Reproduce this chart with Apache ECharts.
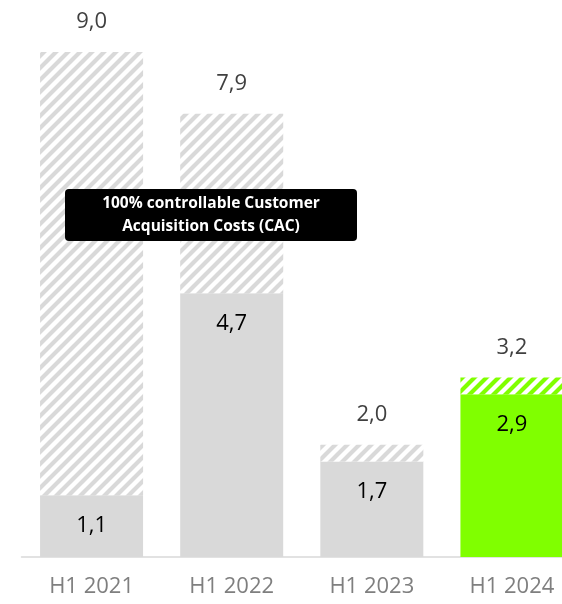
<!DOCTYPE html>
<html>
<head>
<meta charset="utf-8">
<script src="https://cdn.jsdelivr.net/npm/echarts@6/dist/echarts.min.js"></script>
<style>
html,body{margin:0;padding:0;background:#fff;overflow:hidden;width:562px;height:604px;}
#chart{width:582px;height:604px;}
</style>
</head>
<body>
<div id="chart"></div>
<script>
var categories = ['H1 2021', 'H1 2022', 'H1 2023', 'H1 2024'];
var totals = [9.0, 7.9, 2.0, 3.2];
var solid = [1.1, 4.7, 1.7, 2.9];
var annotationLines = ['100% controllable Customer', 'Acquisition Costs (CAC)'];

var GREY = '#d9d9d9';
var GREEN = '#80ff00';
var FONT = '"Open Sans", "Noto Sans", sans-serif';

function stripes(color) {
  var s = 12;
  var c = document.createElement('canvas');
  c.width = s; c.height = s;
  var ctx = c.getContext('2d');
  ctx.fillStyle = '#ffffff';
  ctx.fillRect(0, 0, s, s);
  ctx.strokeStyle = color;
  ctx.lineWidth = 4.2;
  ctx.lineCap = 'square';
  [0, s, 2 * s].forEach(function (k) {
    ctx.beginPath();
    ctx.moveTo(k + 2, -2);
    ctx.lineTo(k - s - 2, s + 2);
    ctx.stroke();
  });
  return { image: c, repeat: 'repeat' };
}

var greyPat = stripes(GREY);
var greenPat = stripes(GREEN);

function fmt(v) { return v.toFixed(1).replace('.', ','); }

var solidData = solid.map(function (v, i) {
  return { value: v, itemStyle: { color: i === 3 ? GREEN : GREY } };
});
var hatchData = totals.map(function (t, i) {
  return { value: +(t - solid[i]).toFixed(2), itemStyle: { color: i === 3 ? greenPat : greyPat } };
});

var chart = echarts.init(document.getElementById('chart'));
chart.setOption({
  animation: false,
  backgroundColor: '#ffffff',
  grid: { left: 21.5, right: 0, top: 52, bottom: 47, containLabel: false },
  xAxis: {
    type: 'category',
    data: categories,
    axisLine: { lineStyle: { color: '#d9d9d9', width: 1.5 } },
    axisTick: { show: false },
    axisLabel: { color: '#7f7f7f', fontSize: 22, fontFamily: FONT, margin: 19 }
  },
  yAxis: { type: 'value', min: 0, max: 9, show: false, splitLine: { show: false } },
  series: [
    {
      type: 'bar', stack: 'cac', barWidth: 103, data: solidData,
      label: {
        show: true, position: 'insideTop', distance: 19,
        color: '#000000', fontSize: 22, fontFamily: FONT,
        formatter: function (p) { return fmt(solid[p.dataIndex]); }
      }
    },
    {
      type: 'bar', stack: 'cac', barWidth: 103, data: hatchData,
      label: {
        show: true, position: 'top', distance: 19,
        color: '#404040', fontSize: 22, fontFamily: FONT,
        formatter: function (p) { return fmt(totals[p.dataIndex]); }
      }
    }
  ],
  graphic: [
    {
      type: 'group', left: 65, top: 189, z: 100,
      children: [
        { type: 'rect', z: 100, shape: { x: 0, y: 0, width: 292, height: 52, r: 4 }, style: { fill: '#000000' } },
        {
          type: 'text', z: 101, x: 146, y: 26,
          style: {
            text: annotationLines.join('\n'), fill: '#ffffff',
            font: 'bold 15.5px ' + FONT, lineHeight: 23,
            align: 'center', verticalAlign: 'middle'
          }
        }
      ]
    }
  ]
});
</script>
</body>
</html>
